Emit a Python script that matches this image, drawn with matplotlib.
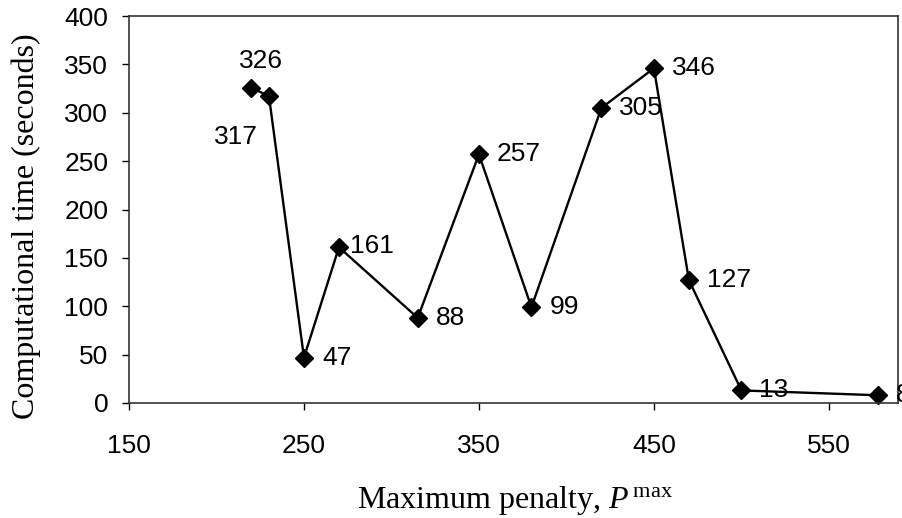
import matplotlib
matplotlib.use("Agg")
import matplotlib.pyplot as plt

# data
penalty = [220, 230, 250, 270, 315, 350, 380, 420, 450, 470, 500, 578]
comp_time = [326, 317, 47, 161, 88, 257, 99, 305, 346, 127, 13, 8]
x_ticks = [150, 250, 350, 450, 550]
y_ticks = [0, 50, 100, 150, 200, 250, 300, 350, 400]

plt.rcParams["mathtext.fontset"] = "custom"
plt.rcParams["mathtext.rm"] = "Liberation Serif"
plt.rcParams["mathtext.it"] = "Liberation Serif:italic"

W, H = 902, 518
fig = plt.figure(figsize=(W / 100, H / 100), dpi=100)
ax = fig.add_axes([129 / W, 1 - 403 / H, (898 - 129) / W, (403 - 16) / H])

ax.plot(penalty, comp_time, color="black", linewidth=1.7, marker="D",
        markersize=9, markerfacecolor="black", markeredgecolor="black", clip_on=False)

sans = ["Liberation Sans", "DejaVu Sans"]

# value labels, mostly to the right of the points
for x, y in zip(penalty, comp_time):
    if y == 326:
        off, ha = (7, 19), "center"
    elif y == 317:
        off, ha = (-24, -29), "center"
    elif y == 161:
        off, ha = (8, 1), "left"
    else:
        off, ha = (13, 0), "left"
    ax.annotate(str(y), (x, y), xytext=off, textcoords="offset points",
                ha=ha, va="center", family=sans, fontsize=19, annotation_clip=False)

ax.set_xlim(150, 589.5)
ax.set_ylim(0, 400)
ax.set_xticks(x_ticks)
ax.set_yticks(y_ticks)
ax.set_xticklabels([str(t) for t in x_ticks], family=sans, fontsize=19)
ax.set_yticklabels([str(t) for t in y_ticks], family=sans, fontsize=19)
ax.tick_params(axis="both", direction="out", length=5, width=1, color="black")
ax.tick_params(axis="y", pad=10)
ax.tick_params(axis="x", pad=17)

for s in ax.spines.values():
    s.set_color("#333333")
    s.set_linewidth(1.2)

serif = ["Liberation Serif", "DejaVu Serif"]
fig.text(515 / W, 1 - 508 / H, r"Maximum penalty, $\mathit{P}^{\,\mathrm{max}}$",
         ha="center", va="baseline", fontsize=23, family=serif)
fig.text(26 / W, 1 - 226 / H, "Computational time (seconds)", rotation=90,
         ha="center", va="center", fontsize=23, family=serif)

fig.savefig("out.png", dpi=100)
plt.close(fig)
